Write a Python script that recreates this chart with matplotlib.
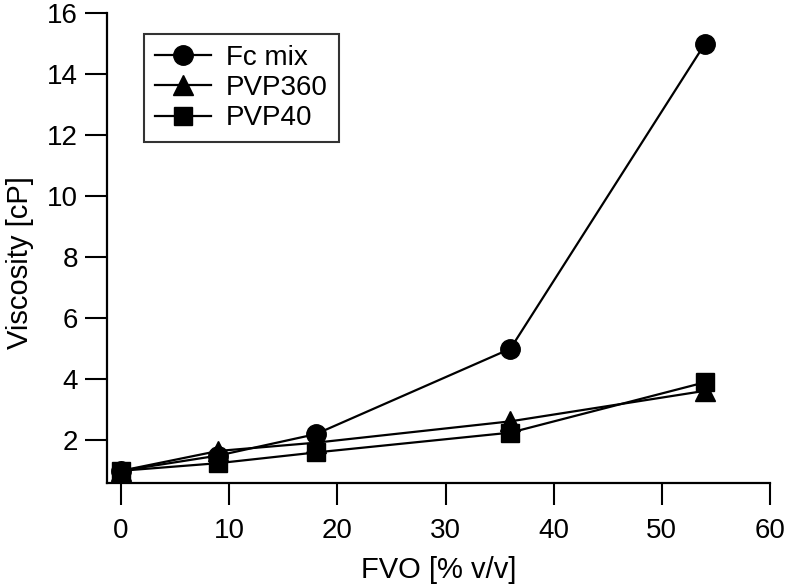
import numpy as np
import matplotlib
matplotlib.use("Agg")
import matplotlib.pyplot as plt

plt.rcParams['font.family'] = ['Liberation Sans', 'DejaVu Sans']

# data
fvo = [0, 9, 18, 36, 54]
fc_mix = [1.0, 1.5, 2.2, 5.0, 15.0]
pvp360 = [1.0, 1.65, 1.92, 2.62, 3.62]
pvp40 = [1.0, 1.25, 1.6, 2.25, 3.9]

fig = plt.figure(figsize=(7.92, 5.88), dpi=100)
ax = fig.add_axes([0.1351, 0.1786, 0.8371, 0.7993])

ax.plot(fvo, fc_mix, color='black', lw=1.6, marker='o', ms=14, label='Fc mix')
ax.plot(fvo, pvp360, color='black', lw=1.6, marker='^', ms=15, label='PVP360')
ax.plot(fvo, pvp40, color='black', lw=1.6, marker='s', ms=13, label='PVP40')

ax.set_xlim(-1.3, 60)
ax.set_ylim(0.6, 16)
ax.set_xticks(np.arange(0, 61, 10))
ax.set_yticks(np.arange(2, 17, 2))

for s in ['top', 'right']:
    ax.spines[s].set_visible(False)
for s in ['left', 'bottom']:
    ax.spines[s].set_linewidth(1.6)

ax.tick_params(direction='out', length=16, width=1.5, labelsize=20)
ax.tick_params(axis='x', pad=9)
ax.tick_params(axis='y', pad=5)
ax.set_xlabel('FVO [% v/v]', fontsize=21, labelpad=9)
ax.set_ylabel('Viscosity [cP]', fontsize=21)
ax.yaxis.set_label_coords(-0.11, 0.47)

leg = ax.legend(loc='upper left', bbox_to_anchor=(0.035, 0.985), fontsize=20,
                frameon=True, fancybox=False, edgecolor='black',
                handlelength=2.0, borderpad=0.4, labelspacing=0.15, handletextpad=0.55)
leg.get_frame().set_linewidth(1.5)

fig.savefig('out.png', dpi=100)
